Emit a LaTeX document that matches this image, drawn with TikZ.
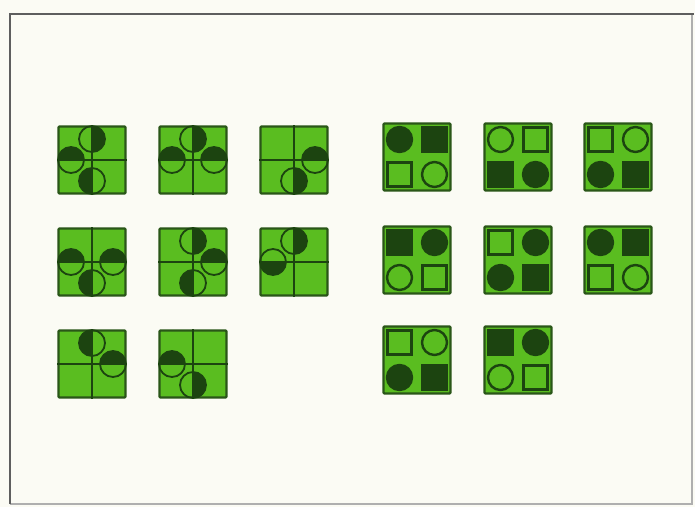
\documentclass[tikz,border=0pt]{standalone}
\usetikzlibrary{positioning}
\definecolor{paper}{HTML}{FBFBF4}
\definecolor{lt}{HTML}{5ABD20}
\definecolor{dk}{HTML}{1C4410}
\definecolor{rim}{HTML}{2A5618}
\definecolor{frm}{HTML}{5E5E5E}
\tikzset{
  tile/.style={draw=rim,line width=2.2pt,fill=lt,minimum size=67pt,inner sep=0pt,rounded corners=1pt},
  ln/.style={draw=dk,line width=1.8pt},
  shp/.style={draw=dk,line width=2.4pt},
  frame/.style={draw=frm,line width=2pt},
}
% half-filled circle: x, y, start angle of the dark half
\newcommand{\hcirc}[3]{%
  \fill[dk] (#1,#2) -- +(#3:13) arc[start angle=#3,delta angle=180,radius=13] -- cycle;
  \draw[ln] (#1,#2) circle[radius=13];}
% cross tile with circles on its arms
\newcommand{\ltile}[4]{%
  \node[tile] (#1) at (#2,#3) {};
  \draw[ln] (#1.north) -- (#1.south) (#1.west) -- (#1.east);
  \foreach \dx/\dy/\a in {#4}{\hcirc{#2+\dx}{#3+\dy}{\a}}}
% four shapes tile, order TL,TR,BL,BR
\newcommand{\rtile}[4]{%
  \node[tile] (#1) at (#2,#3) {};
  \foreach \k/\f [count=\i from 0] in {#4}{%
    \pgfmathsetmacro\dx{(mod(\i,2)*2-1)*17.5}
    \pgfmathsetmacro\dy{(1-2*int(\i/2))*17.5}
    \if c\k \draw[shp,fill=\f] (#2+\dx,#3+\dy) circle[radius=12.5];
    \else \draw[shp,fill=\f] (#2+\dx-12,#3+\dy-12) rectangle ++(24,24); \fi}}

\begin{document}
\begin{tikzpicture}[x=1pt,y=1pt]
  \useasboundingbox[fill=paper] (0,0) rectangle (695,507);
  % frame
  \draw[frame,draw=frm!50] (10,3) -- (692,3) -- (692,493);
  \draw[frame,line width=2.6pt] (10,3) -- (10,493) -- (694,493);
  % left group
  \ltile{l11}{92}{347}{0/21/-90,-21/0/0,0/-21/90}
  \ltile{l12}{193}{347}{0/21/-90,-21/0/0,21/0/0}
  \ltile{l13}{294}{347}{21/0/0,0/-21/-90}
  \ltile{l21}{92}{245}{-21/0/0,21/0/0,0/-21/90}
  \ltile{l22}{193}{245}{0/21/-90,21/0/0,0/-21/90}
  \ltile{l23}{294}{245}{0/21/-90,-21/0/180}
  \ltile{l31}{92}{143}{0/21/90,21/0/0}
  \ltile{l32}{193}{143}{-21/0/0,0/-21/-90}
  % right group
  \rtile{r11}{417}{350}{c/dk,s/dk,s/lt,c/lt}
  \rtile{r12}{518}{350}{c/lt,s/lt,s/dk,c/dk}
  \rtile{r13}{618}{350}{s/lt,c/lt,c/dk,s/dk}
  \rtile{r21}{417}{247}{s/dk,c/dk,c/lt,s/lt}
  \rtile{r22}{518}{247}{s/lt,c/dk,c/dk,s/dk}
  \rtile{r23}{618}{247}{c/dk,s/dk,s/lt,c/lt}
  \rtile{r31}{417}{147}{s/lt,c/lt,c/dk,s/dk}
  \rtile{r32}{518}{147}{s/dk,c/dk,c/lt,s/lt}
\end{tikzpicture}
\end{document}
